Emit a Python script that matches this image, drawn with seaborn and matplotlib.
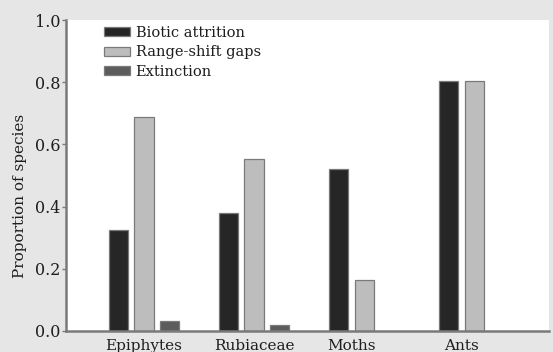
import numpy as np
import pandas as pd
import matplotlib
matplotlib.use("Agg")
import matplotlib.pyplot as plt
import seaborn as sns

groups = ["Epiphytes", "Rubiaceae", "Moths", "Ants"]
series = ["Biotic attrition", "Range-shift gaps", "Extinction"]
biotic = [0.325, 0.378, 0.52, 0.805]
gaps = [0.688, 0.552, 0.164, 0.805]
extinction = [0.033, 0.019, np.nan, np.nan]
colors = ["#262626", "#bdbdbd", "#5c5c5c"]

rows = []
for i, g in enumerate(groups):
    for s, vals in zip(series, [biotic, gaps, extinction]):
        rows.append({"Group": g, "Series": s, "Value": vals[i]})
df = pd.DataFrame(rows)

sns.set_theme(style="white")
plt.rcParams["font.family"] = ["DejaVu Serif"]
plt.rcParams["text.color"] = "#1e1e1e"
plt.rcParams["xtick.color"] = "#1e1e1e"
plt.rcParams["ytick.color"] = "#1e1e1e"
plt.rcParams["axes.labelcolor"] = "#1e1e1e"

fig = plt.figure(figsize=(5.53, 3.52), dpi=100, facecolor="#e6e6e6")
ax = fig.add_axes([0.119, 0.06, 0.874, 0.883])
ax.set_facecolor("white")

width = 0.7
sns.barplot(data=df, x="Group", y="Value", hue="Series", order=groups,
            hue_order=series, palette=colors, width=width, gap=0.25,
            edgecolor="#7a7a7a", linewidth=0.9, ax=ax)

# labels sit under the bars that are actually there
step = width / len(series)
ticks = []
for i in range(len(groups)):
    present = [j for j, v in enumerate([biotic[i], gaps[i], extinction[i]]) if not np.isnan(v)]
    offs = [(j - 1) * step for j in present]
    ticks.append(i + np.mean(offs))
ax.set_xticks(ticks)
ax.set_xticklabels(groups, fontsize=11)

ax.set_xlim(-0.71, 3.68)
ax.set_ylim(0, 1.0)
ax.set_yticks([0, 0.2, 0.4, 0.6, 0.8, 1.0])
ax.set_yticklabels(["0.0", "0.2", "0.4", "0.6", "0.8", "1.0"], fontsize=11.5)
ax.set_xlabel("")
ax.set_ylabel("Proportion of species", fontsize=11)
ax.yaxis.set_label_coords(-0.08, 0.435)

for side in ["top", "right"]:
    ax.spines[side].set_visible(False)
for side in ["left", "bottom"]:
    ax.spines[side].set_color("#7a7a7a")
    ax.spines[side].set_linewidth(1.8)
ax.tick_params(axis="y", which="major", left=True, length=3, width=1, color="#7a7a7a", pad=1)
ax.tick_params(axis="x", bottom=False, pad=0)

handles, labels = ax.get_legend_handles_labels()
ax.legend(handles, labels, loc="upper left", bbox_to_anchor=(0.066, 1.0),
          frameon=False, fontsize=10.5, handlelength=1.8, handleheight=0.6,
          handletextpad=0.4, labelspacing=0.38, borderaxespad=0)

fig.savefig("out.png", dpi=100, facecolor=fig.get_facecolor())
